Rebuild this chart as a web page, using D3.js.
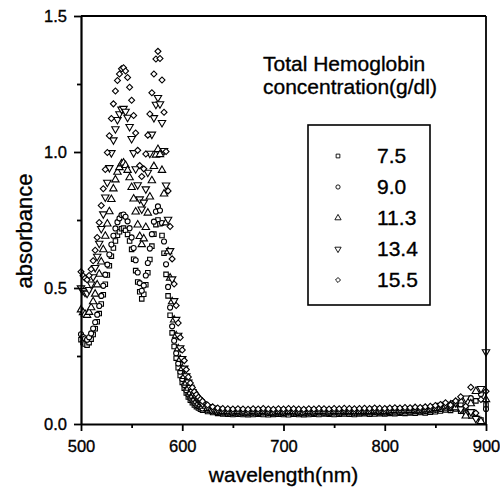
<!DOCTYPE html>
<html>
<head>
<meta charset="utf-8">
<script src="https://cdn.jsdelivr.net/npm/d3@7"></script>
<style>
  body { margin: 0; background: #fff; }
  svg { display: block; font-family: 'Liberation Sans', Arial, sans-serif; }
  text { stroke: #000; stroke-width: 0.35px; fill: #000; }
</style>
</head>
<body>
<svg id="chart" width="500" height="494"></svg>
<script>
// wavelength (nm) of every sample, 2 nm steps over the bands, 5 nm in the tail
const wavelengths = [
  500, 502, 504, 506, 508, 510, 512, 514, 516, 518,
  520, 522, 524, 526, 528, 530, 532, 534, 536, 538,
  540, 542, 544, 546, 548, 550, 552, 554, 556, 558,
  560, 562, 564, 566, 568, 570, 572, 574, 576, 578,
  580, 582, 584, 586, 588, 590, 592, 594, 596, 598,
  600, 602, 604, 606, 608, 610, 612, 614, 616, 618,
  620,
  625, 630, 635, 640, 645, 650, 655, 660, 665, 670,
  675, 680, 685, 690, 695, 700, 705, 710, 715, 720,
  725, 730, 735, 740, 745, 750, 755, 760, 765, 770,
  775, 780, 785, 790, 795, 800, 805, 810, 815, 820,
  825, 830, 835, 840, 845, 850, 855, 860, 865, 870,
  875, 880, 885, 890, 895, 900
]

// absorbance for each total hemoglobin concentration
const abs75 = [
  0.31, 0.30, 0.294, 0.29, 0.299, 0.312, 0.329, 0.350, 0.376, 0.406,
  0.441, 0.475, 0.514, 0.548, 0.582, 0.617, 0.647, 0.673, 0.694, 0.707,
  0.718, 0.72, 0.712, 0.697, 0.673, 0.642, 0.606, 0.564, 0.522, 0.486,
  0.46, 0.477, 0.512, 0.556, 0.605, 0.654, 0.698, 0.733, 0.75, 0.736,
  0.693, 0.628, 0.550, 0.471, 0.400, 0.335, 0.285, 0.242, 0.207, 0.178,
  0.153, 0.132, 0.114, 0.099, 0.087, 0.078, 0.070, 0.064, 0.059, 0.054,
  0.051,
  0.046, 0.042, 0.039, 0.037, 0.036, 0.035, 0.036, 0.035, 0.034, 0.035,
  0.036, 0.035, 0.034, 0.035, 0.036, 0.035, 0.034, 0.036, 0.035, 0.034,
  0.035, 0.036, 0.035, 0.037, 0.036, 0.035, 0.036, 0.037, 0.036, 0.035,
  0.037, 0.038, 0.036, 0.037, 0.038, 0.037, 0.039, 0.038, 0.040, 0.039,
  0.041, 0.040, 0.042, 0.041, 0.043, 0.045, 0.048, 0.052, 0.050, 0.055,
  0.047, 0.060, 0.030, 0.085, 0.015, 0.070
]

const abs90 = [
  0.33, 0.32, 0.314, 0.31, 0.319, 0.333, 0.351, 0.374, 0.402, 0.434,
  0.471, 0.508, 0.549, 0.586, 0.623, 0.660, 0.692, 0.719, 0.742, 0.756,
  0.768, 0.77, 0.762, 0.745, 0.720, 0.686, 0.647, 0.602, 0.557, 0.518,
  0.49, 0.509, 0.546, 0.592, 0.645, 0.698, 0.744, 0.781, 0.80, 0.785,
  0.739, 0.671, 0.587, 0.504, 0.428, 0.359, 0.306, 0.260, 0.222, 0.192,
  0.165, 0.143, 0.124, 0.108, 0.096, 0.086, 0.077, 0.070, 0.065, 0.061,
  0.057,
  0.052, 0.047, 0.044, 0.042, 0.041, 0.040, 0.041, 0.040, 0.039, 0.041,
  0.040, 0.042, 0.040, 0.039, 0.041, 0.040, 0.042, 0.041, 0.040, 0.039,
  0.041, 0.040, 0.042, 0.041, 0.040, 0.042, 0.041, 0.043, 0.042, 0.041,
  0.042, 0.043, 0.042, 0.044, 0.043, 0.042, 0.044, 0.045, 0.044, 0.046,
  0.045, 0.047, 0.046, 0.048, 0.050, 0.052, 0.055, 0.060, 0.058, 0.064,
  0.072, 0.040, 0.095, 0.025, 0.110, 0.055
]

const abs113 = [
  0.42, 0.41, 0.404, 0.40, 0.411, 0.428, 0.450, 0.478, 0.512, 0.551,
  0.596, 0.641, 0.691, 0.736, 0.781, 0.826, 0.865, 0.898, 0.926, 0.943,
  0.957, 0.96, 0.951, 0.933, 0.906, 0.870, 0.828, 0.780, 0.732, 0.690,
  0.66, 0.681, 0.723, 0.776, 0.835, 0.895, 0.947, 0.989, 1.01, 0.991,
  0.933, 0.846, 0.740, 0.634, 0.537, 0.450, 0.383, 0.325, 0.277, 0.238,
  0.204, 0.175, 0.151, 0.132, 0.115, 0.103, 0.092, 0.084, 0.077, 0.071,
  0.066,
  0.058, 0.052, 0.049, 0.047, 0.046, 0.045, 0.046, 0.045, 0.044, 0.046,
  0.045, 0.047, 0.045, 0.044, 0.046, 0.045, 0.047, 0.046, 0.045, 0.044,
  0.046, 0.045, 0.047, 0.046, 0.045, 0.047, 0.046, 0.048, 0.047, 0.046,
  0.047, 0.048, 0.047, 0.049, 0.048, 0.047, 0.049, 0.050, 0.049, 0.051,
  0.050, 0.052, 0.051, 0.053, 0.055, 0.058, 0.062, 0.066, 0.070, 0.060,
  0.085, 0.030, 0.075, 0.120, 0.010, 0.090
]

const abs134 = [
  0.50, 0.49, 0.484, 0.48, 0.494, 0.514, 0.541, 0.575, 0.616, 0.664,
  0.718, 0.772, 0.834, 0.888, 0.942, 0.997, 1.044, 1.085, 1.119, 1.140,
  1.157, 1.16, 1.149, 1.127, 1.093, 1.049, 0.997, 0.938, 0.879, 0.827,
  0.79, 0.815, 0.864, 0.925, 0.995, 1.065, 1.126, 1.175, 1.20, 1.177,
  1.108, 1.005, 0.878, 0.752, 0.637, 0.533, 0.453, 0.384, 0.326, 0.280,
  0.240, 0.205, 0.177, 0.154, 0.134, 0.119, 0.106, 0.096, 0.088, 0.081,
  0.075,
  0.064, 0.058, 0.054, 0.052, 0.051, 0.050, 0.051, 0.050, 0.049, 0.051,
  0.050, 0.052, 0.050, 0.049, 0.051, 0.050, 0.052, 0.051, 0.050, 0.049,
  0.051, 0.050, 0.052, 0.051, 0.050, 0.052, 0.051, 0.053, 0.052, 0.051,
  0.052, 0.053, 0.052, 0.054, 0.053, 0.052, 0.054, 0.055, 0.054, 0.056,
  0.055, 0.057, 0.056, 0.058, 0.060, 0.063, 0.068, 0.072, 0.065, 0.078,
  0.055, 0.095, 0.045, 0.020, 0.130, 0.265
]

const abs155 = [
  0.56, 0.545, 0.536, 0.53, 0.546, 0.569, 0.600, 0.639, 0.686, 0.741,
  0.803, 0.865, 0.936, 0.998, 1.060, 1.123, 1.177, 1.224, 1.263, 1.287,
  1.306, 1.31, 1.298, 1.274, 1.238, 1.190, 1.134, 1.070, 1.006, 0.950,
  0.91, 0.938, 0.993, 1.062, 1.140, 1.218, 1.287, 1.342, 1.37, 1.344,
  1.265, 1.146, 1.002, 0.857, 0.726, 0.607, 0.515, 0.436, 0.371, 0.318,
  0.272, 0.233, 0.200, 0.173, 0.151, 0.134, 0.119, 0.108, 0.098, 0.091,
  0.084,
  0.070, 0.063, 0.059, 0.057, 0.056, 0.055, 0.056, 0.055, 0.054, 0.056,
  0.055, 0.057, 0.055, 0.054, 0.056, 0.055, 0.057, 0.056, 0.055, 0.054,
  0.056, 0.055, 0.057, 0.056, 0.055, 0.057, 0.056, 0.058, 0.057, 0.056,
  0.057, 0.058, 0.057, 0.059, 0.058, 0.057, 0.059, 0.060, 0.059, 0.061,
  0.060, 0.062, 0.061, 0.063, 0.065, 0.068, 0.072, 0.078, 0.070, 0.085,
  0.100, 0.065, 0.135, 0.040, 0.090, 0.120
]

const concentrations = ['7.5', '9.0', '11.3', '13.4', '15.5']
const xTicks = [500, 600, 700, 800, 900]
const xMinorTicks = [550, 650, 750, 850]
const yTicks = [0, 0.5, 1.0, 1.5]
const yMinorTicks = [0.25, 0.75, 1.25]

const seriesValues = [abs75, abs90, abs113, abs134, abs155]

// marker for each series : square, circle, triangle up, triangle down, diamond
const markers = [
  { type: d3.symbolSquare, size: 20, rotate: 0 },
  { type: d3.symbolCircle, size: 20, rotate: 0 },
  { type: d3.symbolTriangle, size: 24, rotate: 0 },
  { type: d3.symbolTriangle, size: 24, rotate: 180 },
  { type: d3.symbolSquare, size: 18, rotate: 45 }
]

const margin = { top: 16, right: 14, bottom: 70, left: 81 }
const width = 500 - margin.left - margin.right
const height = 494 - margin.top - margin.bottom

const svg = d3.select('#chart')
const g = svg.append('g')
  .attr('id', 'graph-g')
  .attr('transform', `translate(${margin.left},${margin.top})`)

const xScale = d3.scaleLinear().domain([500, 900]).range([0, width])
const yScale = d3.scaleLinear().domain([0, 1.5]).range([height, 0])

/**
 * Draws both axes with their minor ticks and the top / right frame.
 */
function drawAxes () {
  g.append('g')
    .attr('class', 'x axis')
    .attr('transform', `translate(0,${height})`)
    .call(d3.axisBottom(xScale)
      .tickValues(xTicks)
      .tickSize(7)
      .tickSizeOuter(0)
      .tickPadding(9)
      .tickFormat(d3.format('d')))

  g.append('g')
    .attr('class', 'x minor')
    .attr('transform', `translate(0,${height})`)
    .call(d3.axisBottom(xScale).tickValues(xMinorTicks).tickSize(4).tickFormat(''))
    .call(sel => sel.select('.domain').remove())

  g.append('g')
    .attr('class', 'y axis')
    .call(d3.axisLeft(yScale)
      .tickValues(yTicks)
      .tickSize(7)
      .tickSizeOuter(0)
      .tickPadding(7)
      .tickFormat(d3.format('.1f')))

  g.append('g')
    .attr('class', 'y minor')
    .call(d3.axisLeft(yScale).tickValues(yMinorTicks).tickSize(4).tickFormat(''))
    .call(sel => sel.select('.domain').remove())

  g.selectAll('.axis .domain').attr('stroke', '#000').attr('stroke-width', 2.2)
  g.selectAll('.tick line').attr('stroke', '#000').attr('stroke-width', 1.8)
  g.selectAll('.axis text')
    .attr('fill', '#000')
    .style('font-size', '16.5px')
    .style('font-family', "'Liberation Sans', Arial, sans-serif")

  // frame on top and on the right
  g.append('line')
    .attr('x1', 0).attr('x2', width)
    .attr('y1', 0).attr('y2', 0)
    .attr('stroke', '#000').attr('stroke-width', 1.8)
  g.append('line')
    .attr('x1', width).attr('x2', width)
    .attr('y1', 0).attr('y2', height)
    .attr('stroke', '#000').attr('stroke-width', 1.8)
}

/**
 * Draws the axis titles.
 */
function drawLabels () {
  svg.append('text')
    .attr('class', 'y axis-text')
    .attr('transform', 'translate(32,231) rotate(-90)')
    .attr('text-anchor', 'middle')
    .style('font-size', '22px')
    .text('absorbance')

  svg.append('text')
    .attr('class', 'x axis-text')
    .attr('x', margin.left + width / 2)
    .attr('y', 482)
    .attr('text-anchor', 'middle')
    .style('font-size', '21px')
    .text('wavelength(nm)')
}

/**
 * Draws the scatter markers of every series.
 */
function drawPoints () {
  seriesValues.forEach(function (values, i) {
    const m = markers[i]
    const symbol = d3.symbol().type(m.type).size(m.size)
    const points = wavelengths.map((w, j) => ({ w: w, a: values[j] }))

    g.append('g')
      .attr('class', 'series s' + i)
      .selectAll('path')
      .data(points)
      .enter()
      .append('path')
      .attr('d', symbol)
      .attr('transform', d => `translate(${xScale(d.w)},${yScale(d.a)}) rotate(${m.rotate})`)
      .attr('fill', '#fff')
      .attr('stroke', '#000')
      .attr('stroke-width', 1.1)
  })
}

/**
 * Draws the legend : title, box and one row per concentration.
 */
function drawLegend () {
  const legend = svg.append('g').attr('class', 'legend')

  legend.append('text')
    .attr('x', 263).attr('y', 71)
    .style('font-size', '21px')
    .text('Total Hemoglobin')
  legend.append('text')
    .attr('x', 263).attr('y', 94)
    .style('font-size', '21px')
    .text('concentration(g/dl)')

  legend.append('rect')
    .attr('x', 308).attr('y', 125)
    .attr('width', 122).attr('height', 180)
    .attr('fill', 'none')
    .attr('stroke', '#000')
    .attr('stroke-width', 1.6)

  const rows = legend.selectAll('.row')
    .data(concentrations)
    .enter()
    .append('g')
    .attr('class', 'row')
    .attr('transform', (d, i) => `translate(0,${163 + i * 31})`)

  rows.append('path')
    .attr('d', (d, i) => d3.symbol().type(markers[i].type).size(markers[i].size * 0.7)())
    .attr('transform', (d, i) => `translate(338,-7) rotate(${markers[i].rotate})`)
    .attr('fill', '#fff')
    .attr('stroke', '#000')
    .attr('stroke-width', 0.9)

  rows.append('text')
    .attr('x', 377)
    .style('font-size', '21px')
    .text(d => d)
}

drawPoints()
drawAxes()
drawLabels()
drawLegend()
</script>
</body>
</html>
